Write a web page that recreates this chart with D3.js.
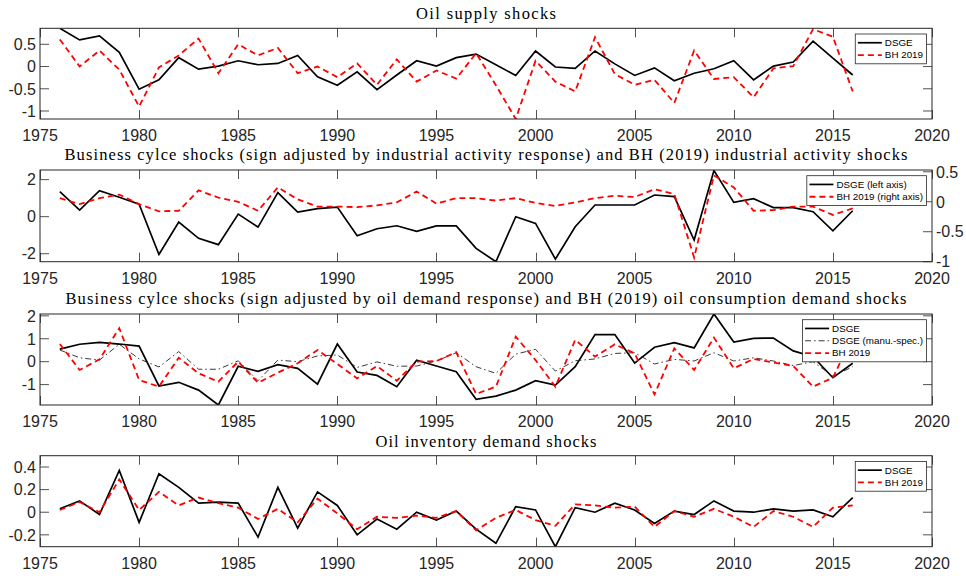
<!DOCTYPE html>
<html>
<head>
<meta charset="utf-8">
<script src="https://cdn.jsdelivr.net/npm/d3@7"></script>
<style>
  body { margin: 0; background: #fff; }
  svg { display: block; }
</style>
</head>
<body>
<script>
// ---- data -------------------------------------------------------------
const years = [1976, 1977, 1978, 1979, 1980, 1981, 1982, 1983, 1984, 1985, 1986,
  1987, 1988, 1989, 1990, 1991, 1992, 1993, 1994, 1995, 1996,
  1997, 1998, 1999, 2000, 2001, 2002, 2003, 2004, 2005, 2006,
  2007, 2008, 2009, 2010, 2011, 2012, 2013, 2014, 2015, 2016];

const xTickValues = [1975, 1980, 1985, 1990, 1995, 2000, 2005, 2010, 2015, 2020];

// Oil supply shocks
const oilSupplyDSGE = [0.86, 0.60, 0.69, 0.32, -0.51, -0.30, 0.20, -0.06, 0.01, 0.13, 0.04,
  0.07, 0.25, -0.23, -0.42, -0.12, -0.52, -0.19, 0.13, 0.01, 0.20,
  0.28, 0.04, -0.20, 0.35, -0.01, -0.04, 0.35, 0.06, -0.20, -0.03,
  -0.32, -0.15, -0.05, 0.13, -0.30, 0.01, 0.10, 0.57, 0.19, -0.19];
const oilSupplyBH = [0.61, 0.00, 0.36, -0.07, -0.90, -0.02, 0.25, 0.63, -0.15, 0.50, 0.25,
  0.42, -0.15, 0.00, -0.24, 0.07, -0.41, 0.16, -0.34, -0.09, -0.27,
  0.30, -0.42, -1.18, 0.13, -0.34, -0.56, 0.66, -0.17, -0.41, -0.30,
  -0.82, 0.36, -0.28, -0.24, -0.69, -0.04, 0.01, 0.84, 0.67, -0.56];
const oilSupplyTicks = [-1, -0.5, 0, 0.5];

// Business cycle shocks vs. BH industrial activity shocks
const activityDSGE = [1.35, 0.36, 1.40, 1.05, 0.67, -2.04, -0.29, -1.17, -1.51, 0.14, -0.56,
  1.30, 0.25, 0.43, 0.52, -1.03, -0.65, -0.49, -0.79, -0.50, -0.50,
  -1.71, -2.43, 0.00, -0.36, -2.29, -0.54, 0.63, 0.63, 0.63, 1.17,
  1.08, -1.26, 2.49, 0.77, 0.97, 0.49, 0.49, 0.27, -0.76, 0.32];
const activityBH = [0.06, -0.04, 0.06, 0.12, -0.04, -0.16, -0.15, 0.19, 0.07, 0.00, -0.15,
  0.24, 0.04, -0.08, -0.08, -0.09, -0.06, -0.01, 0.17, -0.03, 0.06,
  0.06, 0.02, 0.06, -0.02, -0.07, -0.01, 0.06, 0.10, 0.08, 0.21,
  0.13, -0.93, 0.44, 0.24, -0.15, -0.14, -0.08, -0.08, -0.22, -0.11];
const activityLeftTicks = [-2, 0, 2];
const activityRightTicks = [-1, -0.5, 0, 0.5];

// Business cycle shocks vs. BH oil consumption demand shocks
const demandDSGE = [0.55, 0.76, 0.84, 0.77, 0.68, -1.06, -0.90, -1.24, -1.89, -0.20, -0.42,
  -0.13, -0.29, -0.98, 0.77, -0.45, -0.60, -1.09, 0.06, -0.19, -0.44,
  -1.64, -1.50, -1.24, -0.83, -1.02, -0.22, 1.18, 1.18, -0.06, 0.63,
  0.83, 0.60, 2.08, 0.86, 1.02, 1.03, 0.47, 0.22, -0.70, -0.07];
const demandManuSpec = [0.51, 0.17, 0.07, 0.76, 0.12, -0.23, 0.44, -0.33, -0.33, 0.04, -0.83,
  0.07, 0.00, 0.25, 0.29, -0.25, -0.01, -0.20, -0.19, 0.03, 0.39,
  -0.22, -0.51, 0.33, 0.54, -0.41, 0.04, 0.12, 0.36, 0.39, -0.10,
  0.10, 0.03, 0.39, 0.03, 0.17, 0.03, -0.17, 0.00, -0.63, -0.22];
const demandBH = [0.77, -0.36, 0.10, 1.46, -0.80, -1.09, 0.17, -0.51, -0.87, 0.00, -0.92,
  -0.48, -0.07, 0.51, -0.10, -0.73, -0.19, -0.83, 0.00, 0.03, 0.41,
  -1.41, -1.09, 1.09, 0.07, -1.09, 0.95, 0.22, 0.76, 0.36, -1.43,
  0.58, -0.36, 1.05, -0.29, 0.12, -0.04, -0.19, -1.09, -0.70, 1.10];
const demandTicks = [-1, 0, 1, 2];

// Oil inventory demand shocks
const inventoryDSGE = [0.03, 0.10, -0.02, 0.37, -0.09, 0.34, 0.22, 0.08, 0.09, 0.08, -0.22,
  0.22, -0.14, 0.18, 0.06, -0.20, -0.06, -0.15, 0.00, -0.07, 0.01,
  -0.15, -0.275, 0.05, 0.02, -0.305, 0.04, 0.00, 0.08, 0.02, -0.10,
  0.01, -0.02, 0.10, 0.01, 0.00, 0.03, 0.01, 0.02, -0.04, 0.13];
const inventoryBH = [0.02, 0.09, 0.00, 0.29, 0.02, 0.18, 0.06, 0.13, 0.08, 0.04, -0.06,
  0.03, -0.09, 0.12, -0.01, -0.15, -0.04, -0.05, -0.03, -0.05, 0.01,
  -0.16, -0.05, 0.02, -0.07, -0.12, 0.07, 0.06, 0.04, 0.05, -0.13,
  0.01, -0.04, 0.03, -0.04, -0.13, 0.01, -0.04, -0.13, 0.04, 0.06];
const inventoryTicks = [-0.2, 0, 0.2, 0.4];

// ---- layout & styles --------------------------------------------------
const W = 966, H = 576;
const AX = "#262626";
const TICK_LEN = 9;
const sans = "'Liberation Sans', Arial, Helvetica, sans-serif";
const serif = "'Liberation Serif', 'Times New Roman', serif";

const styles = {
  dsge: { stroke: "#000", width: 1.7, dash: null },
  bh:   { stroke: "#ff0000", width: 1.8, dash: "6,4" },
  manu: { stroke: "#222", width: 0.9, dash: "6,3,1.5,3" }
};

const panels = [
  {
    title: "Oil supply shocks", titleWidth: 140, titleY: 18.5,
    top: 28.3, bottom: 119, yDomain: [-1.18, 0.86], yTicks: oilSupplyTicks,
    series: [
      { name: "DSGE", values: oilSupplyDSGE, style: "dsge" },
      { name: "BH 2019", values: oilSupplyBH, style: "bh" }
    ]
  },
  {
    title: "Business cylce shocks (sign adjusted by industrial activity response) and BH (2019) industrial activity shocks",
    titleWidth: 843, titleY: 160,
    top: 170, bottom: 261.7, yDomain: [-2.43, 2.52], yTicks: activityLeftTicks,
    right: { yDomain: [-1.0, 0.53], yTicks: activityRightTicks },
    series: [
      { name: "DSGE (left axis)", values: activityDSGE, style: "dsge" },
      { name: "BH 2019 (right axis)", values: activityBH, style: "bh", axis: "right" }
    ]
  },
  {
    title: "Business cylce shocks (sign adjusted by oil demand response) and BH (2019) oil consumption demand shocks",
    titleWidth: 841, titleY: 303.5,
    top: 314, bottom: 405, yDomain: [-1.89, 2.08], yTicks: demandTicks,
    series: [
      { name: "DSGE", values: demandDSGE, style: "dsge" },
      { name: "DSGE (manu.-spec.)", values: demandManuSpec, style: "manu" },
      { name: "BH 2019", values: demandBH, style: "bh" }
    ]
  },
  {
    title: "Oil inventory demand shocks", titleWidth: 221, titleY: 446.5,
    top: 455.7, bottom: 546.7, yDomain: [-0.305, 0.5], yTicks: inventoryTicks,
    series: [
      { name: "DSGE", values: inventoryDSGE, style: "dsge" },
      { name: "BH 2019", values: inventoryBH, style: "bh" }
    ]
  }
];

const LEFT = 40, RIGHT = 932;
const x = d3.scaleLinear().domain([1975, 2020]).range([LEFT, RIGHT]);

const svg = d3.select("body").append("svg")
  .attr("width", W).attr("height", H)
  .attr("viewBox", `0 0 ${W} ${H}`);

svg.append("rect").attr("width", W).attr("height", H).attr("fill", "#fff");

panels.forEach((p, i) => {
  const g = svg.append("g").attr("class", "panel");
  const y = d3.scaleLinear().domain(p.yDomain).range([p.bottom, p.top]);
  const yR = p.right ? d3.scaleLinear().domain(p.right.yDomain).range([p.bottom, p.top]) : null;

  // plot background
  g.append("rect")
    .attr("x", LEFT).attr("y", p.top)
    .attr("width", RIGHT - LEFT).attr("height", p.bottom - p.top)
    .attr("fill", "#fff");

  // clip region for the data lines
  const clipId = "clip" + i;
  svg.append("clipPath").attr("id", clipId)
    .append("rect")
    .attr("x", LEFT).attr("y", p.top)
    .attr("width", RIGHT - LEFT).attr("height", p.bottom - p.top);

  // tick marks drawn inward on all four sides
  const ticks = g.append("g").attr("stroke", AX).attr("stroke-width", 0.8);
  xTickValues.forEach(v => {
    const xp = Math.round(x(v)) + 0.5;
    ticks.append("line").attr("x1", xp).attr("x2", xp).attr("y1", p.bottom).attr("y2", p.bottom - TICK_LEN);
    ticks.append("line").attr("x1", xp).attr("x2", xp).attr("y1", p.top).attr("y2", p.top + TICK_LEN);
  });
  p.yTicks.forEach(v => {
    const yp = y(v);
    ticks.append("line").attr("x1", LEFT).attr("x2", LEFT + TICK_LEN).attr("y1", yp).attr("y2", yp);
    if (!p.right) {
      ticks.append("line").attr("x1", RIGHT).attr("x2", RIGHT - TICK_LEN).attr("y1", yp).attr("y2", yp);
    }
  });
  if (p.right) {
    p.right.yTicks.forEach(v => {
      const yp = yR(v);
      ticks.append("line").attr("x1", RIGHT).attr("x2", RIGHT - TICK_LEN).attr("y1", yp).attr("y2", yp);
    });
  }

  // data lines
  const lines = g.append("g").attr("clip-path", `url(#${clipId})`);
  p.series.forEach(s => {
    const st = styles[s.style];
    const ys = s.axis === "right" ? yR : y;
    const line = d3.line().x((d, k) => x(years[k])).y(d => ys(d));
    lines.append("path")
      .datum(s.values)
      .attr("d", line)
      .attr("fill", "none")
      .attr("stroke", st.stroke)
      .attr("stroke-width", st.width)
      .attr("stroke-dasharray", st.dash)
      .attr("stroke-linejoin", "miter");
  });

  // axes box
  g.append("rect")
    .attr("x", LEFT).attr("y", p.top)
    .attr("width", RIGHT - LEFT).attr("height", p.bottom - p.top)
    .attr("fill", "none").attr("stroke", AX).attr("stroke-width", 1);

  // tick labels
  const labels = g.append("g").attr("fill", AX)
    .style("font-family", sans).style("font-size", "16px");
  xTickValues.forEach(v => {
    labels.append("text").attr("x", x(v)).attr("y", p.bottom + 22)
      .attr("text-anchor", "middle").text(String(v));
  });
  p.yTicks.forEach(v => {
    labels.append("text").attr("x", LEFT - 4).attr("y", y(v)).attr("dy", "0.36em")
      .attr("text-anchor", "end").text(String(v));
  });
  if (p.right) {
    p.right.yTicks.forEach(v => {
      labels.append("text").attr("x", RIGHT + 4).attr("y", yR(v)).attr("dy", "0.36em")
        .attr("text-anchor", "start").text(String(v));
    });
  }

  // title
  g.append("text")
    .attr("x", (LEFT + RIGHT) / 2).attr("y", p.titleY)
    .attr("text-anchor", "middle")
    .attr("textLength", p.titleWidth).attr("lengthAdjust", "spacing")
    .style("font-family", serif).style("font-size", "16.5px").attr("fill", "#000")
    .text(p.title);

  // legend, upper right corner
  const rowH = 12.3, pad = 2.6, sampleLen = 24, gap = 3;
  const lg = g.append("g");
  const box = lg.append("rect").attr("fill", "#fff").attr("stroke", AX).attr("stroke-width", 0.8);
  const texts = [];
  p.series.forEach((s, k) => {
    const st = styles[s.style];
    const ly = pad + rowH * (k + 0.5);
    lg.append("line")
      .attr("x1", pad).attr("x2", pad + sampleLen).attr("y1", ly).attr("y2", ly)
      .attr("stroke", st.stroke).attr("stroke-width", st.width)
      .attr("stroke-dasharray", st.dash);
    texts.push(lg.append("text")
      .attr("x", pad + sampleLen + gap).attr("y", ly).attr("dy", "0.35em")
      .style("font-family", sans).style("font-size", "9.8px").attr("fill", "#000")
      .text(s.name));
  });
  const maxW = d3.max(texts, t => t.node().getComputedTextLength());
  const bw = pad + sampleLen + gap + maxW + 3.5;
  const bh = rowH * p.series.length + pad * 2;
  box.attr("x", 0).attr("y", 0).attr("width", bw).attr("height", bh);
  lg.attr("transform", `translate(${RIGHT - 5.5 - bw},${p.top + 5.7})`);
});
</script>
</body>
</html>
